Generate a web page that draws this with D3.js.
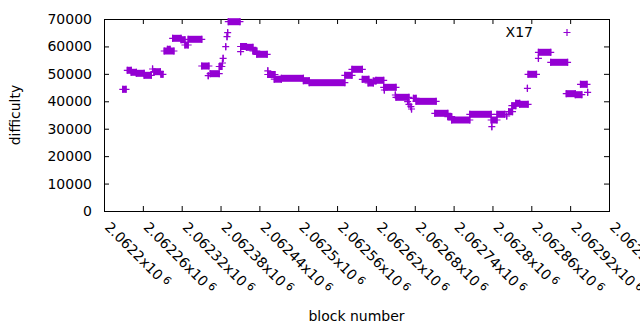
<!DOCTYPE html>
<html>
<head>
<meta charset="utf-8">
<script src="https://cdn.jsdelivr.net/npm/d3@7/dist/d3.min.js"></script>
<style>
  body { margin: 0; background: #fff; }
  svg text { font-family: "DejaVu Sans", sans-serif; font-size: 14px; fill: #000; }
</style>
</head>
<body>
<div id="chart"></div>
<script>
// runs of blocks sharing (about) the same difficulty; start == end is one block
var runStart = [2062229, 2062236, 2062242, 2062250, 2062262, 2062275, 2062277, 2062288,
    2062293, 2062298, 2062306, 2062319, 2062325, 2062330, 2062351, 2062361, 2062364,
    2062378, 2062383, 2062384, 2062388, 2062390, 2062391, 2062392, 2062411, 2062411,
    2062420, 2062430, 2062436, 2062453, 2062453, 2062463, 2062474, 2062508, 2062517,
    2062572, 2062583, 2062599, 2062608, 2062616, 2062620, 2062633, 2062632, 2062650,
    2062651, 2062669, 2062671, 2062674, 2062675, 2062678, 2062682, 2062711, 2062731,
    2062737, 2062765, 2062798, 2062799, 2062807, 2062822, 2062825, 2062830, 2062836,
    2062842, 2062854, 2062855, 2062871, 2062871, 2062890, 2062914, 2062928, 2062936,
    2062947];
var runEnd = [2062234, 2062242, 2062250, 2062262, 2062273, 2062275, 2062287, 2062291,
    2062308, 2062302, 2062319, 2062325, 2062330, 2062351, 2062362, 2062361, 2062378,
    2062382, 2062383, 2062384, 2062388, 2062390, 2062391, 2062410, 2062411, 2062420,
    2062430, 2062436, 2062452, 2062453, 2062464, 2062474, 2062508, 2062517, 2062572,
    2062583, 2062599, 2062609, 2062616, 2062620, 2062632, 2062633, 2062651, 2062650,
    2062671, 2062669, 2062671, 2062674, 2062675, 2062682, 2062713, 2062731, 2062737,
    2062765, 2062798, 2062807, 2062799, 2062819, 2062822, 2062831, 2062836, 2062842,
    2062855, 2062854, 2062868, 2062871, 2062890, 2062916, 2062928, 2062938, 2062946,
    2062947];
var runDifficulty = [44370, 51300, 50570, 50200, 49470, 51770, 50790, 49840,
    58330, 58950, 62960, 62450, 60520, 62600, 52860, 49330, 50060,
    52680, 53960, 55670, 59900, 63550, 65010, 69010, 58080, 59980,
    59680, 58330, 57130, 51110, 49770, 48050, 48380, 47510, 46780,
    49470, 51660, 48020, 46670, 47400, 47650, 44110, 45100, 42290,
    41450, 39850, 38900, 38030, 37190, 41090, 39980, 35620, 34380,
    33180, 35260, 33180, 30730, 35260, 34640, 36200, 38390, 39260,
    38900, 44730, 49840, 55670, 57860, 54210, 42770, 42400, 46190,
    43280];

var xTicks = [2062200, 2062260, 2062320, 2062380, 2062440, 2062500, 2062560,
    2062620, 2062680, 2062740, 2062800, 2062860, 2062920, 2062980];
var yTicks = [0, 10000, 20000, 30000, 40000, 50000, 60000, 70000];
var seriesName = "X17";
var color = "#9400d3";

var W = 640, H = 330;
var margin = { top: 19, right: 31, bottom: 119, left: 104 };
var width = W - margin.left - margin.right,
    height = H - margin.top - margin.bottom;

var x = d3.scaleLinear()
    .domain([xTicks[0], xTicks[xTicks.length - 1]])
    .range([0, width]);
var y = d3.scaleLinear().domain([0, 70000]).range([height, 0]);

var svg = d3.select("#chart").append("svg")
    .attr("width", W)
    .attr("height", H);

var g = svg.append("g")
    .attr("transform", "translate(" + margin.left + "," + margin.top + ")");

// ticks on all four sides, pointing inward
var tl = 5;
g.append("g").selectAll("line").data(yTicks).enter().append("line")
    .attr("x1", 0).attr("x2", tl)
    .attr("y1", function (d) { return y(d) + 0.5; }).attr("y2", function (d) { return y(d) + 0.5; })
    .attr("stroke", "#000");
g.append("g").selectAll("line").data(yTicks).enter().append("line")
    .attr("x1", width - tl).attr("x2", width)
    .attr("y1", function (d) { return y(d) + 0.5; }).attr("y2", function (d) { return y(d) + 0.5; })
    .attr("stroke", "#000");
g.append("g").selectAll("line").data(xTicks).enter().append("line")
    .attr("x1", function (d) { return x(d) + 0.5; }).attr("x2", function (d) { return x(d) + 0.5; })
    .attr("y1", height).attr("y2", height - tl)
    .attr("stroke", "#000");
g.append("g").selectAll("line").data(xTicks).enter().append("line")
    .attr("x1", function (d) { return x(d) + 0.5; }).attr("x2", function (d) { return x(d) + 0.5; })
    .attr("y1", 0).attr("y2", tl)
    .attr("stroke", "#000");

// y tick labels
g.append("g").selectAll("text").data(yTicks).enter().append("text")
    .attr("x", -12)
    .attr("y", function (d) { return y(d); })
    .attr("dy", "0.36em")
    .attr("text-anchor", "end")
    .text(function (d) { return d; });

// x tick labels, rotated (the last one runs off the edge as in the original)
var xl = g.append("g").selectAll("text").data(xTicks).enter().append("text")
    .attr("transform", function (d) { return "translate(" + x(d) + "," + (height + 17) + ") rotate(45)"; });
xl.append("tspan").text(function (d) { return String(d / 1e6) + "x10"; });
xl.append("tspan").attr("dx", 3).attr("dy", -4).style("font-size", "11px").text("6");

// frame
g.append("rect")
    .attr("x", 0.5).attr("y", 0.5)
    .attr("width", width).attr("height", height)
    .attr("fill", "none").attr("stroke", "#000");

// data
var runs = runStart.map(function (s, i) {
    return { s: s, e: runEnd[i], d: runDifficulty[i] };
});
var arm = 3.5;
var marks = g.append("g");
marks.selectAll("rect").data(runs).enter().append("rect")
    .attr("x", function (r) { return x(r.s) - 0.6; })
    .attr("width", function (r) { return x(r.e) - x(r.s) + 1.2; })
    .attr("y", function (r) { return y(r.d) - arm; })
    .attr("height", arm * 2)
    .attr("fill", color);
marks.selectAll("path").data(runs).enter().append("path")
    .attr("d", function (r) {
        var x0 = x(r.s), x1 = x(r.e), yy = y(r.d);
        return "M" + (x0 - arm) + "," + yy + "H" + (x1 + arm) +
            "M" + x0 + "," + (yy - arm) + "V" + (yy + arm) +
            "M" + x1 + "," + (yy - arm) + "V" + (yy + arm);
    })
    .attr("fill", "none")
    .attr("stroke", color)
    .attr("stroke-width", 1.2);

// key
g.append("text")
    .attr("x", 429).attr("y", 13).attr("dy", "0.36em")
    .attr("text-anchor", "end")
    .text(seriesName);
g.append("path")
    .attr("d", "M" + (463 - arm) + ",13.5H" + (463 + arm) + "M463," + (13.5 - arm) + "V" + (13.5 + arm))
    .attr("stroke", color).attr("stroke-width", 1.2).attr("fill", "none");

// axis titles
svg.append("text")
    .attr("transform", "translate(20," + (margin.top + height / 2) + ") rotate(-90)")
    .attr("text-anchor", "middle")
    .text("difficulty");
svg.append("text")
    .attr("x", margin.left + width / 2)
    .attr("y", 321)
    .attr("text-anchor", "middle")
    .text("block number");
</script>
</body>
</html>
